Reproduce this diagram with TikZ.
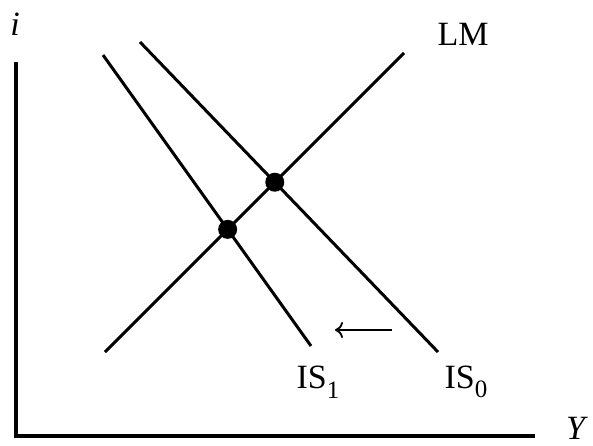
\documentclass[tikz,border=0pt]{standalone}
\usepackage{fontspec}
\setmainfont{Liberation Serif}
\usetikzlibrary{intersections,arrows.meta}

\newcommand{\lowsub}[1]{\raisebox{-0.28em}{\fontsize{25}{25}\selectfont #1}}

\begin{document}
\begin{tikzpicture}[
  x=1pt,y=-1pt,
  curve/.style={line width=3pt},
  axis/.style={line width=3.4pt},
  eq/.style={circle,fill=black,inner sep=0pt,minimum size=19pt},
  lbl/.style={font=\fontsize{34}{34}\selectfont,inner sep=0pt}
]
  \useasboundingbox (0,0) rectangle (593,446);

  % axes
  \coordinate (origin) at (16,436);
  \coordinate (itop) at (16,62);
  \coordinate (yend) at (535,436);
  \draw[axis] (itop) -- (origin) -- (yend);
  \node[lbl] (ilabel) at (15,24) {\textit{i}};
  \node[lbl] (ylabel) at (577,428) {\textit{Y}};

  % curves
  \coordinate (lmlow) at (105,352);
  \coordinate (lmhigh) at (404,53);
  \coordinate (is0top) at (140,42);
  \coordinate (is0bot) at (438,352);
  \coordinate (is1top) at (103,55);
  \coordinate (is1bot) at (311,346);
  \draw[curve,name path=lm] (lmlow) -- (lmhigh);
  \draw[curve,name path=is0] (is0top) -- (is0bot);
  \draw[curve,name path=is1] (is1top) -- (is1bot);

  \node[lbl] (lmlabel) at (463,34) {LM};
  \node[lbl] (is1label) at (318,382) {IS\lowsub{1}};
  \node[lbl] (is0label) at (466,382) {IS\lowsub{0}};

  % equilibria
  \path[name intersections={of=lm and is0,by=e0}];
  \path[name intersections={of=lm and is1,by=e1}];
  \node[eq] (eqzero) at (e0) {};
  \node[eq] (eqone) at (e1) {};

  % shift
  \coordinate (shiftfrom) at (392,330);
  \coordinate (shiftto) at (335,330);
  \draw[line width=1.8pt,-{To[length=8pt,width=16pt]}] (shiftfrom) -- (shiftto);
\end{tikzpicture}
\end{document}
